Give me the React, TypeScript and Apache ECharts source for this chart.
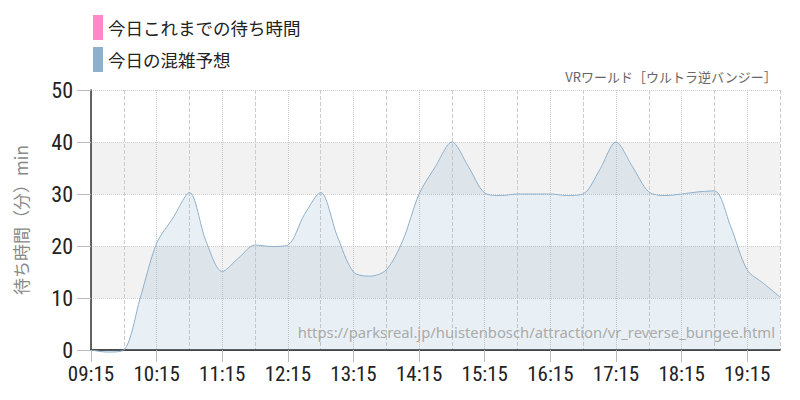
import React, { useEffect, useRef } from "react";
import * as echarts from "echarts";

const times = [
  "09:15", "09:30", "09:45", "10:00", "10:15", "10:30", "10:45", "11:00", "11:15", "11:30", "11:45",
  "12:00", "12:15", "12:30", "12:45", "13:00", "13:15", "13:30", "13:45", "14:00", "14:15", "14:30",
  "14:45", "15:00", "15:15", "15:30", "15:45", "16:00", "16:15", "16:30", "16:45", "17:00", "17:15",
  "17:30", "17:45", "18:00", "18:15", "18:30", "18:45", "19:00", "19:15", "19:30", "19:45",
];

const forecast = [
  0, -0.4, 0, 10, 20.5, 25.4, 30.3, 21, 15.1, 17.7, 20.2,
  19.9, 20.2, 26, 30.3, 22, 15, 14.2, 15.4, 21, 30, 35.3,
  40, 35.3, 30.2, 29.7, 30, 30, 30, 29.7, 30, 34.6, 40,
  35.3, 30.4, 29.7, 30, 30.4, 30.6, 23.7, 15.4, 12.8, 10.2,
];

const actual: number[] = [];

const seriesNames = ["今日これまでの待ち時間", "今日の混雑予想"];
const titleText = "VRワールド［ウルトラ逆バンジー］";
const urlText = "https://parksreal.jp/huistenbosch/attraction/vr_reverse_bungee.html";
const yAxisName = "待ち時間（分）min";

const numFont = "'Roboto Condensed', 'Liberation Sans Narrow', 'Arial Narrow', 'Roboto', sans-serif";
const jpFont = "'Noto Sans CJK JP', 'Noto Sans', sans-serif";

export default function App() {
  const ref = useRef<HTMLDivElement>(null);
  useEffect(() => {
    document.body.style.margin = "0";
    if (!ref.current) return;
    const chart = echarts.init(ref.current, null, { renderer: "svg" });
    chart.setOption({
      animation: false,
      backgroundColor: "#fff",
      grid: { left: 91, right: 20, top: 90, bottom: 50 },
      legend: {
        orient: "vertical",
        left: 93,
        top: 15,
        padding: 0,
        itemWidth: 10,
        itemHeight: 25,
        itemGap: 7,
        icon: "rect",
        textStyle: { fontSize: 17.5, color: "#222", fontFamily: jpFont },
        data: seriesNames,
      },
      graphic: [
        {
          type: "text",
          right: 24,
          top: 70,
          style: { text: titleText, fontSize: 13, fill: "#666", fontFamily: jpFont },
        },
        {
          type: "text",
          right: 25,
          top: 324,
          z: 10,
          style: { text: urlText, fontSize: 14.8, fill: "#aaa", fontFamily: "'Noto Sans', 'Open Sans', sans-serif" },
        },
      ],
      xAxis: [
        {
          type: "category",
          data: times,
          boundaryGap: false,
          axisLine: { onZero: false, lineStyle: { color: "#111", width: 1.5 } },
          axisTick: {
            show: true,
            length: 12,
            interval: (i: number) => i % 4 === 0,
            lineStyle: { color: "#bbb" },
          },
          axisLabel: {
            interval: (i: number) => i % 4 === 0,
            fontSize: 21,
            color: "#222",
            fontFamily: numFont,
            margin: 13,
          },
          splitLine: {
            show: true,
            interval: (i: number) => i % 4 === 0,
            lineStyle: { color: "#c8c8c8", type: "dotted" },
          },
        },
        {
          type: "category",
          data: times,
          boundaryGap: false,
          position: "bottom",
          axisLine: { show: false },
          axisTick: { show: false },
          axisLabel: { show: false },
          splitLine: {
            show: true,
            interval: (i: number) => i % 4 === 2,
            lineStyle: { color: "#ccc", type: "dashed" },
          },
        },
      ],
      yAxis: {
        type: "value",
        min: 0,
        max: 50,
        interval: 10,
        name: yAxisName,
        nameLocation: "middle",
        nameGap: 62,
        nameTextStyle: { fontSize: 17, color: "#888", fontFamily: jpFont },
        axisLine: { show: true, lineStyle: { color: "#333", width: 1.5 } },
        axisTick: { show: true, length: 14, lineStyle: { color: "#bbb" } },
        axisLabel: { fontSize: 22, color: "#222", fontFamily: numFont, margin: 18 },
        splitLine: { show: true, lineStyle: { color: "#ccc", type: "dotted" } },
        splitArea: { show: true, areaStyle: { color: ["rgba(255,255,255,0)", "#f2f2f2"] } },
      },
      series: [
        {
          name: seriesNames[0],
          type: "line",
          data: actual,
          color: "#ff88c8",
          symbol: "none",
        },
        {
          name: seriesNames[1],
          type: "line",
          data: forecast,
          color: "#8fb0cc",
          symbol: "none",
          smooth: 0.3,
          clip: false,
          z: 5,
          lineStyle: { width: 1, color: "#8fb0cc" },
          areaStyle: { color: "rgba(143,176,204,0.28)" },
        },
      ],
    });
    return () => chart.dispose();
  }, []);
  return <div ref={ref} style={{ width: 800, height: 400 }} />;
}
